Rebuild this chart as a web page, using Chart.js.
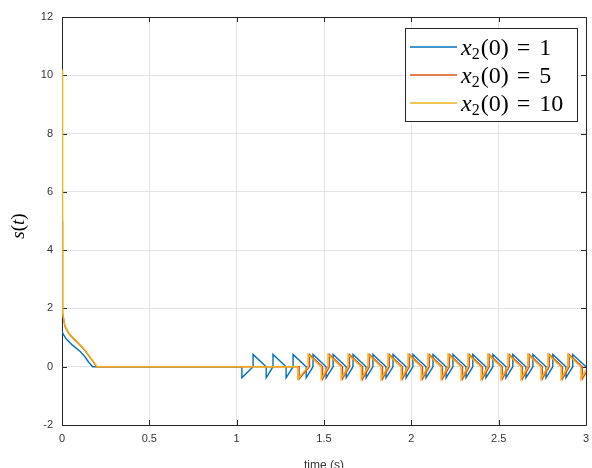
<!DOCTYPE html>
<html>
<head>
<meta charset="utf-8">
<script src="https://cdn.jsdelivr.net/npm/chart.js@4.4.0/dist/chart.umd.min.js"></script>
<style>
  html, body { margin: 0; padding: 0; background: #fff; }
</style>
</head>
<body>
<canvas id="chart" width="592" height="468"></canvas>
<script>
// axis ticks
const xTicks = [0, 0.5, 1, 1.5, 2, 2.5, 3];
const yTicks = [-2, 0, 2, 4, 6, 8, 10, 12];

// legend values of x2(0)
const initValues = ["1", "5", "10"];

// x2(0) = 1
const blueT = [0, 0.01, 0.027, 0.06, 0.103, 0.13, 0.15, 0.175, 1.03, 1.03,
  1.094, 1.094, 1.169, 1.169,
  1.208, 1.208, 1.283, 1.283,
  1.323, 1.323, 1.398, 1.398,
  1.437, 1.437, 1.512, 1.512,
  1.552, 1.552, 1.627, 1.627,
  1.666, 1.666, 1.741, 1.741,
  1.780, 1.780, 1.855, 1.855,
  1.895, 1.895, 1.970, 1.970,
  2.009, 2.009, 2.084, 2.084,
  2.124, 2.124, 2.199, 2.199,
  2.238, 2.238, 2.313, 2.313,
  2.352, 2.352, 2.427, 2.427,
  2.467, 2.467, 2.542, 2.542,
  2.581, 2.581, 2.656, 2.656,
  2.696, 2.696, 2.771, 2.771,
  2.810, 2.810, 2.885, 2.885,
  2.924, 2.924, 3.0];
const blueS = [1.22, 1.08, 0.93, 0.74, 0.53, 0.35, 0.18, 0, 0, -0.38,
  0, 0.42, 0, -0.38,
  0, 0.42, 0, -0.38,
  0, 0.42, 0, -0.38,
  0, 0.42, 0, -0.38,
  0, 0.42, 0, -0.38,
  0, 0.42, 0, -0.38,
  0, 0.42, 0, -0.38,
  0, 0.42, 0, -0.38,
  0, 0.42, 0, -0.38,
  0, 0.42, 0, -0.38,
  0, 0.42, 0, -0.38,
  0, 0.42, 0, -0.38,
  0, 0.42, 0, -0.38,
  0, 0.42, 0, -0.38,
  0, 0.42, 0, -0.38,
  0, 0.42, 0, -0.38,
  0, 0.42, 0.0];

// x2(0) = 5
const orangeT = [0, 0.002, 0.005, 0.017, 0.04, 0.065, 0.1, 0.13, 0.16, 0.18, 0.198, 1.358, 1.358,
  1.417, 1.417, 1.492, 1.492,
  1.531, 1.531, 1.606, 1.606,
  1.646, 1.646, 1.721, 1.721,
  1.760, 1.760, 1.835, 1.835,
  1.874, 1.874, 1.949, 1.949,
  1.989, 1.989, 2.064, 2.064,
  2.103, 2.103, 2.178, 2.178,
  2.218, 2.218, 2.293, 2.293,
  2.332, 2.332, 2.407, 2.407,
  2.446, 2.446, 2.521, 2.521,
  2.561, 2.561, 2.636, 2.636,
  2.675, 2.675, 2.750, 2.750,
  2.790, 2.790, 2.865, 2.865,
  2.904, 2.904, 2.979, 2.979,
  3.0];
const orangeS = [5.0, 2.5, 1.83, 1.38, 1.13, 0.97, 0.76, 0.56, 0.32, 0.16, 0, 0, -0.42,
  0, 0.42, 0, -0.42,
  0, 0.42, 0, -0.42,
  0, 0.42, 0, -0.42,
  0, 0.42, 0, -0.42,
  0, 0.42, 0, -0.42,
  0, 0.42, 0, -0.42,
  0, 0.42, 0, -0.42,
  0, 0.42, 0, -0.42,
  0, 0.42, 0, -0.42,
  0, 0.42, 0, -0.42,
  0, 0.42, 0, -0.42,
  0, 0.42, 0, -0.42,
  0, 0.42, 0, -0.42,
  0, 0.42, 0, -0.42,
  -0.2];

// x2(0) = 10
const yellowT = [0, 0.002, 0.005, 0.017, 0.04, 0.065, 0.1, 0.13, 0.16, 0.18, 0.2, 1.35, 1.35,
  1.409, 1.409, 1.484, 1.484,
  1.523, 1.523, 1.598, 1.598,
  1.638, 1.638, 1.713, 1.713,
  1.752, 1.752, 1.827, 1.827,
  1.866, 1.866, 1.941, 1.941,
  1.981, 1.981, 2.056, 2.056,
  2.095, 2.095, 2.170, 2.170,
  2.210, 2.210, 2.285, 2.285,
  2.324, 2.324, 2.399, 2.399,
  2.438, 2.438, 2.513, 2.513,
  2.553, 2.553, 2.628, 2.628,
  2.667, 2.667, 2.742, 2.742,
  2.782, 2.782, 2.857, 2.857,
  2.896, 2.896, 2.971, 2.971,
  3.0];
const yellowS = [10.2, 2.6, 1.85, 1.4, 1.15, 0.99, 0.78, 0.58, 0.34, 0.18, 0, 0, -0.42,
  0, 0.42, 0, -0.42,
  0, 0.42, 0, -0.42,
  0, 0.42, 0, -0.42,
  0, 0.42, 0, -0.42,
  0, 0.42, 0, -0.42,
  0, 0.42, 0, -0.42,
  0, 0.42, 0, -0.42,
  0, 0.42, 0, -0.42,
  0, 0.42, 0, -0.42,
  0, 0.42, 0, -0.42,
  0, 0.42, 0, -0.42,
  0, 0.42, 0, -0.42,
  0, 0.42, 0, -0.42,
  0, 0.42, 0, -0.42,
  -0.11];

const colors = ["#0072BD", "#D95319", "#EDB120"];
const axisColor = "#262626";

function pts(ts, ss) {
  return ts.map((t, i) => ({ x: t, y: ss[i] }));
}

// frame and inward ticks go under the lines, legend and y label on top
const matlabDecor = {
  id: "matlabDecor",
  beforeDatasetsDraw(chart) {
    const ctx = chart.ctx;
    const a = chart.chartArea;
    const xs = chart.scales.x, ys = chart.scales.y;
    ctx.save();
    ctx.strokeStyle = axisColor;
    ctx.lineWidth = 1;
    ctx.beginPath();
    ctx.rect(Math.round(a.left) + 0.5, Math.round(a.top) + 0.5,
      Math.round(a.right - a.left), Math.round(a.bottom - a.top));
    ctx.stroke();
    ctx.beginPath();
    xTicks.forEach(v => {
      const px = Math.round(xs.getPixelForValue(v)) + 0.5;
      ctx.moveTo(px, a.bottom); ctx.lineTo(px, a.bottom - 5);
      ctx.moveTo(px, a.top); ctx.lineTo(px, a.top + 5);
    });
    yTicks.forEach(v => {
      const py = Math.round(ys.getPixelForValue(v)) + 0.5;
      ctx.moveTo(a.left, py); ctx.lineTo(a.left + 5, py);
      ctx.moveTo(a.right, py); ctx.lineTo(a.right - 5, py);
    });
    ctx.stroke();
    ctx.restore();
  },
  afterDraw(chart) {
    const ctx = chart.ctx;
    const a = chart.chartArea;
    ctx.save();

    // y axis label s(t)
    ctx.save();
    ctx.translate(19, (a.top + a.bottom) / 2 + 5);
    ctx.rotate(-Math.PI / 2);
    ctx.fillStyle = "#000";
    ctx.textBaseline = "middle";
    const parts = [["italic 19px 'Liberation Serif'", "s"], ["19px 'Liberation Serif'", "("],
      ["italic 19px 'Liberation Serif'", "t"], ["19px 'Liberation Serif'", ")"]];
    let w = 0;
    parts.forEach(p => { ctx.font = p[0]; w += ctx.measureText(p[1]).width; });
    let cx = -w / 2;
    parts.forEach(p => { ctx.font = p[0]; ctx.fillText(p[1], cx, 0); cx += ctx.measureText(p[1]).width; });
    ctx.restore();

    // legend box
    const bx = 405, by = 28, bw = 172, bh = 93;
    ctx.fillStyle = "#fff";
    ctx.fillRect(bx, by, bw, bh);
    ctx.strokeStyle = axisColor;
    ctx.lineWidth = 1;
    ctx.strokeRect(bx + 0.5, by + 0.5, bw, bh);
    initValues.forEach((val, i) => {
      const y = 47 + i * 28;
      ctx.strokeStyle = colors[i];
      ctx.lineWidth = 1.5;
      ctx.beginPath();
      ctx.moveTo(410, y); ctx.lineTo(457, y);
      ctx.stroke();
      ctx.fillStyle = "#000";
      ctx.textBaseline = "alphabetic";
      let x = 461;
      const base = y + 8;
      ctx.font = "italic 24px 'Liberation Serif'";
      ctx.fillText("x", x, base); x += ctx.measureText("x").width;
      ctx.font = "16px 'Liberation Serif'";
      ctx.fillText("2", x, base + 4); x += ctx.measureText("2").width + 1;
      ctx.font = "24px 'Liberation Serif'";
      ctx.fillText("(0)", x, base); x += ctx.measureText("(0)").width + 8;
      ctx.fillText("=", x, base); x += ctx.measureText("=").width + 9;
      ctx.fillText(val, x, base);
    });
    ctx.restore();
  }
};

const ds = [
  { label: "x2(0) = 1", data: pts(blueT, blueS), borderColor: colors[0], order: 2 },
  { label: "x2(0) = 5", data: pts(orangeT, orangeS), borderColor: colors[1], order: 1 },
  { label: "x2(0) = 10", data: pts(yellowT, yellowS), borderColor: colors[2], order: 0 }
].map(d => Object.assign(d, { borderWidth: 1.4, pointRadius: 0, fill: false, tension: 0 }));

new Chart(document.getElementById("chart"), {
  type: "line",
  data: { datasets: ds },
  options: {
    responsive: false,
    animation: false,
    layout: { padding: { left: 0, right: 6, top: 17, bottom: 0 } },
    plugins: { legend: { display: false }, tooltip: { enabled: false } },
    scales: {
      x: {
        type: "linear", min: 0, max: 3,
        afterBuildTicks: s => { s.ticks = xTicks.map(v => ({ value: v })); },
        afterFit: s => { s.height = 43; s.paddingLeft = 0; s.paddingRight = 0; },
        grid: { color: "#e3e3e3", drawTicks: false },
        border: { display: false },
        ticks: { padding: 7, color: "#333", font: { family: "'Liberation Sans'", size: 11 },
          maxRotation: 0, callback: v => String(v) },
        title: { display: true, text: "time (s)", color: "#333",
          font: { family: "'Liberation Sans'", size: 12 }, padding: { top: 0, bottom: -5 } }
      },
      y: {
        min: -2, max: 12,
        afterBuildTicks: s => { s.ticks = yTicks.map(v => ({ value: v })); },
        afterFit: s => { s.width = 62; s.paddingTop = 0; s.paddingBottom = 0; },
        grid: { color: "#e3e3e3", drawTicks: false },
        border: { display: false },
        ticks: { padding: 9, color: "#333", font: { family: "'Liberation Sans'", size: 11 },
          callback: v => String(v) }
      }
    }
  },
  plugins: [matlabDecor]
});
</script>
</body>
</html>
